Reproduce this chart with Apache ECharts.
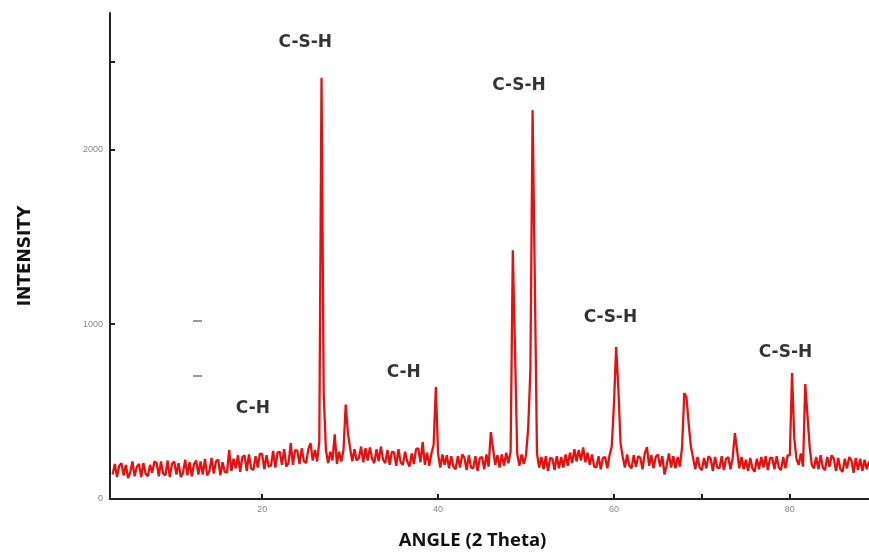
<!DOCTYPE html>
<html>
<head>
<meta charset="utf-8">
<script src="https://cdn.jsdelivr.net/npm/echarts@6/dist/echarts.min.js"></script>
<style>
  html, body { margin: 0; padding: 0; background: #fff; }
  #chart { width: 869px; height: 556px; }
</style>
</head>
<body>
<div id="chart"></div>
<script>
// scan grid: 2 theta from 3.0 in 0.25 steps
var angleStart = 3.0;
var angleStep = 0.25;

// intensity, one row per degree (d, d+.25, d+.5, d+.75)
var intensity = [
  140, 200, 125, 190,   // 3
  205, 135, 195, 120,
  150, 215, 130, 185,
  200, 125, 205, 145,
  130, 195, 150, 215,
  205, 130, 215, 145,   // 8
  135, 220, 125, 200,
  215, 140, 205, 125,
  150, 225, 135, 210,
  130, 200, 220, 140,
  215, 140, 230, 135,   // 13
  160, 235, 145, 215,
  225, 135, 210, 155,
  150, 280, 160, 230,
  175, 250, 155, 240,
  250, 160, 255, 175,   // 18
  165, 245, 180, 260,
  255, 170, 250, 185,
  190, 275, 180, 265,
  270, 195, 285, 185,
  205, 320, 195, 280,   // 23
  275, 200, 290, 215,
  205, 285, 320, 220,
  280, 215, 330, 2410,
  600, 280, 205, 270,
  220, 370, 200, 270,   // 28
  215, 280, 540, 380,
  290, 215, 285, 220,
  235, 300, 210, 290,
  220, 295, 230, 205,
  285, 215, 300, 225,   // 33
  205, 280, 195, 270,
  265, 190, 285, 210,
  195, 270, 215, 185,
  260, 200, 285, 290,
  210, 326, 195, 265,   // 38
  190, 260, 310, 640,
  260, 180, 255, 195,
  250, 175, 245, 185,
  170, 245, 180, 255,
  235, 165, 250, 180,   // 43
  175, 245, 160, 235,
  240, 170, 255, 185,
  383, 290, 195, 250,
  180, 255, 190, 265,
  205, 270, 1423, 863,  // 48
  260, 190, 255, 200,
  250, 405, 737, 2223,
  1263, 260, 180, 240,
  170, 245, 160, 235,
  230, 165, 245, 175,   // 53
  240, 180, 255, 190,
  265, 205, 285, 215,
  280, 220, 295, 210,
  265, 195, 255, 185,
  180, 245, 170, 235,   // 58
  240, 175, 250, 300,
  540, 869, 634, 320,
  240, 180, 255, 190,
  175, 250, 185, 245,
  235, 170, 260, 297,   // 63
  190, 250, 175, 240,
  255, 185, 245, 140,
  195, 260, 180, 245,
  175, 240, 185, 300,
  606, 580, 430, 300,   // 68
  235, 170, 240, 180,
  165, 235, 175, 245,
  230, 160, 240, 180,
  175, 245, 165, 230,
  240, 170, 235, 377,   // 73
  280, 175, 240, 170,
  225, 160, 235, 175,
  155, 230, 170, 240,
  180, 245, 165, 235,
  235, 170, 245, 180,   // 78
  165, 240, 175, 250,
  250, 720, 350, 230,
  195, 260, 185, 657,
  480, 300, 195, 175,
  240, 170, 250, 180,   // 83
  165, 240, 185, 250,
  230, 160, 235, 170,
  155, 230, 175, 240,
  220, 150, 235, 165,
  230, 160, 225, 170,   // 88
  215
];

// peak annotations
var peakLabels = ['C-S-H', 'C-S-H', 'C-H', 'C-S-H', 'C-H', 'C-S-H'];
var peakLabelAngles = [24.9, 49.2, 36.1, 59.6, 18.95, 79.5];
var peakLabelIntensity = [2611, 2366, 726, 1040, 520, 840];

var xTickLabels = [20, 40, 60, 80];
var xTickMarks = [20, 40, 60, 70, 80];
var yTickLabels = [0, 1000, 2000];
var yTickMarks = [0, 1000, 2000, 2500];

var scan = intensity.map(function (v, i) {
  return [angleStart + i * angleStep, v];
});
var labelData = peakLabels.map(function (t, i) {
  return { value: [peakLabelAngles[i], peakLabelIntensity[i]], name: t };
});

var chart = echarts.init(document.getElementById('chart'));

var option = {
  animation: false,
  backgroundColor: '#fff',
  grid: { left: 110, right: 0, top: 13, bottom: 57 },
  xAxis: {
    type: 'value',
    min: 2.7,
    max: 89,
    name: 'ANGLE (2 Theta)',
    nameLocation: 'middle',
    nameGap: 32,
    nameTextStyle: {
      fontFamily: 'Open Sans', fontWeight: 'bold', fontSize: 18.5,
      color: '#111', padding: [0, 34, 0, 0]
    },
    axisLine: { lineStyle: { color: '#222', width: 2 } },
    axisTick: { inside: true, length: 5, customValues: xTickMarks, lineStyle: { color: '#222', width: 2 } },
    axisLabel: {
      color: '#888', fontSize: 9, margin: 6, customValues: xTickLabels,
      formatter: function (v) { return String(v); }
    },
    splitLine: { show: false }
  },
  yAxis: {
    type: 'value',
    min: 0,
    max: 2780,
    name: 'INTENSITY',
    nameLocation: 'middle',
    nameRotate: 90,
    nameGap: 76,
    nameTextStyle: {
      fontFamily: 'DejaVu Sans', fontWeight: 'bold', fontSize: 17, color: '#111'
    },
    axisLine: { show: true, lineStyle: { color: '#222', width: 2 } },
    axisTick: { show: true, inside: true, length: 5, customValues: yTickMarks, lineStyle: { color: '#222', width: 2 } },
    axisLabel: {
      color: '#888', fontSize: 9, margin: 7, customValues: yTickLabels,
      formatter: function (v) { return String(v); }
    },
    splitLine: { show: false }
  },
  graphic: [
    { type: 'line', shape: { x1: 193, y1: 321, x2: 202, y2: 321 }, style: { stroke: '#777', lineWidth: 1.5 } },
    { type: 'line', shape: { x1: 193, y1: 376, x2: 202, y2: 376 }, style: { stroke: '#777', lineWidth: 1.5 } }
  ],
  series: [
    {
      type: 'line',
      data: scan,
      showSymbol: false,
      lineStyle: { color: '#e8100f', width: 2.3 },
      z: 2
    },
    {
      type: 'scatter',
      data: labelData,
      symbolSize: 0,
      silent: true,
      label: {
        show: true,
        position: 'inside',
        formatter: '{b}',
        fontFamily: 'DejaVu Sans',
        fontWeight: 'bold',
        fontSize: 17,
        color: '#000'
      },
      z: 3
    }
  ]
};

chart.setOption(option);
</script>
</body>
</html>
